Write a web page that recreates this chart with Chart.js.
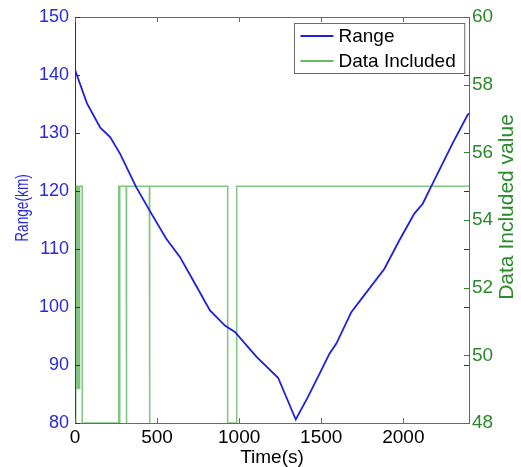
<!DOCTYPE html>
<html>
<head>
<meta charset="utf-8">
<script src="https://cdn.jsdelivr.net/npm/chart.js@4/dist/chart.umd.min.js"></script>
<style>
  html, body { margin: 0; padding: 0; background: #ffffff; }
  #wrap { width: 521px; height: 467px; position: relative; }
</style>
</head>
<body>
<div id="wrap"><canvas id="c" width="521" height="467"></canvas></div>
<script>
// ---- data ----
const rangeTime = [0, 73, 154, 214, 275, 372, 453, 555, 640, 731, 822, 913, 974, 1106, 1237, 1345, 1419, 1490, 1551, 1592, 1683, 1753, 1885, 1976, 2067, 2118, 2179, 2300, 2391, 2400];
const rangeKm   = [140.9, 135.1, 130.9, 129.3, 126.4, 120.7, 116.7, 111.8, 108.6, 104.0, 99.4, 96.8, 95.7, 91.4, 87.8, 80.6, 84.5, 88.5, 92.0, 93.7, 99.1, 101.7, 106.6, 111.5, 116.1, 117.8, 121.3, 128.2, 133.1, 133.4];

const includedTime  = [0, 5, 5, 9, 9, 11, 11, 14, 14, 17, 17, 20, 20, 23, 23, 26, 26, 29, 29, 44, 44, 266, 266, 270, 270, 274, 274, 312, 312, 315, 315, 453, 453, 456, 456, 930, 930, 985, 985, 2400];
const includedValue = [48, 48, 55, 55, 49, 49, 55, 55, 49, 49, 55, 55, 49, 49, 55, 55, 49, 49, 55, 55, 48, 48, 55, 55, 48, 48, 55, 55, 48, 48, 55, 55, 48, 48, 55, 55, 48, 48, 55, 55];

const xTicks  = [0, 500, 1000, 1500, 2000];
const yTicks  = [80, 90, 100, 110, 120, 130, 140, 150];
const y2Ticks = [48, 50, 52, 54, 56, 58, 60];

const seriesNames = ['Range', 'Data Included'];
const xTitle = 'Time(s)';
const yTitle = 'Range(km)';
const y2Title = 'Data Included value';

// ---- styles ----
const BLUE = '#1f1fdc';
const BLUE_TXT = '#2a2ad8';
const GREEN_LINE = 'rgba(0,140,0,0.5)';
const GREEN_TXT = '#2b8a2b';
const GRAY = '#6a6a6a';
const FONT = "Arial, 'Liberation Sans', sans-serif";

const rangeData = rangeTime.map((t, i) => ({ x: t, y: rangeKm[i] }));
const includedData = includedTime.map((t, i) => ({ x: t, y: includedValue[i] }));

const furniture = {
  id: 'furniture',
  afterDraw(chart) {
    const ctx = chart.ctx;
    const a = chart.chartArea;
    const sx = chart.scales.x, sy = chart.scales.y, sy2 = chart.scales.y2;
    ctx.save();
    ctx.lineWidth = 1;
    // top border
    ctx.strokeStyle = GRAY;
    ctx.beginPath(); ctx.moveTo(a.left, a.top + 0.5); ctx.lineTo(a.right, a.top + 0.5); ctx.stroke();
    // x ticks, inward at bottom and top
    xTicks.forEach(v => {
      const p = Math.round(sx.getPixelForValue(v)) + 0.5;
      ctx.beginPath(); ctx.moveTo(p, a.bottom); ctx.lineTo(p, a.bottom - 5); ctx.stroke();
      ctx.beginPath(); ctx.moveTo(p, a.top); ctx.lineTo(p, a.top + 5); ctx.stroke();
    });
    // left y ticks (blue), inward at left and mirrored on right
    ctx.strokeStyle = BLUE;
    yTicks.forEach(v => {
      const p = Math.round(sy.getPixelForValue(v)) + 0.5;
      ctx.beginPath(); ctx.moveTo(a.left, p); ctx.lineTo(a.left + 5, p); ctx.stroke();
      ctx.beginPath(); ctx.moveTo(a.right, p); ctx.lineTo(a.right - 5, p); ctx.stroke();
    });
    // right y ticks (green), inward
    ctx.strokeStyle = GREEN_TXT;
    y2Ticks.forEach(v => {
      const p = Math.round(sy2.getPixelForValue(v)) + 0.5;
      ctx.beginPath(); ctx.moveTo(a.right, p); ctx.lineTo(a.right - 5, p); ctx.stroke();
    });
    // y titles (both read bottom-to-top)
    ctx.fillStyle = BLUE_TXT;
    ctx.font = '18px ' + FONT;
    ctx.textAlign = 'center'; ctx.textBaseline = 'middle';
    ctx.translate(23, 208); ctx.rotate(-Math.PI / 2); ctx.scale(0.76, 1);
    ctx.fillText(yTitle, 0, 0);
    ctx.setTransform(1, 0, 0, 1, 0, 0);
    ctx.fillStyle = GREEN_TXT;
    ctx.font = '21px ' + FONT;
    ctx.translate(507, 207); ctx.rotate(-Math.PI / 2);
    ctx.fillText(y2Title, 0, 0);
    ctx.setTransform(1, 0, 0, 1, 0, 0);

    // legend box
    ctx.font = '19px ' + FONT;
    const tw = Math.max(...seriesNames.map(n => ctx.measureText(n).width));
    const lineLen = 33, padL = 6, gap = 5, padR = 9;
    const w = padL + lineLen + gap + tw + padR;
    const h = 50;
    const bx = Math.round(a.right - 5 - w) + 0.5;
    const by = Math.round(a.top + 6) + 0.5;
    ctx.fillStyle = '#ffffff';
    ctx.fillRect(bx, by, w, h);
    ctx.strokeStyle = GRAY;
    ctx.strokeRect(bx, by, w, h);
    const colors = [BLUE, 'rgba(0,140,0,0.6)'];
    const rows = [by + 12.5, by + 37.5];
    seriesNames.forEach((n, i) => {
      ctx.strokeStyle = colors[i];
      ctx.lineWidth = 1.8;
      ctx.beginPath(); ctx.moveTo(bx + padL, rows[i]); ctx.lineTo(bx + padL + lineLen, rows[i]); ctx.stroke();
      ctx.fillStyle = '#000000';
      ctx.textAlign = 'left'; ctx.textBaseline = 'middle';
      ctx.fillText(n, bx + padL + lineLen + gap, rows[i] + 1);
    });
    ctx.restore();
  }
};

new Chart(document.getElementById('c'), {
  type: 'line',
  data: {
    datasets: [
      { label: seriesNames[0], data: rangeData, yAxisID: 'y', borderColor: BLUE, borderWidth: 1.8,
        pointRadius: 0, tension: 0, fill: false, order: 1 },
      { label: seriesNames[1], data: includedData, yAxisID: 'y2', borderColor: GREEN_LINE, borderWidth: 1.5,
        pointRadius: 0, tension: 0, fill: false, order: 2 }
    ]
  },
  options: {
    responsive: false,
    animation: false,
    devicePixelRatio: 1,
    layout: { padding: { top: 17, left: 0, right: 0, bottom: 0 } },
    plugins: { legend: { display: false }, tooltip: { enabled: false } },
    scales: {
      x: {
        type: 'linear', min: 0, max: 2400,
        afterBuildTicks: s => { s.ticks = xTicks.map(v => ({ value: v })); },
        afterFit: s => { s.height = 44; },
        grid: { display: true, drawOnChartArea: false, drawTicks: false },
        border: { display: true, color: GRAY, width: 1 },
        ticks: { color: '#000000', font: { size: 19, family: FONT }, padding: 3, maxRotation: 0,
                 callback: v => String(v) },
        title: { display: true, text: xTitle, color: '#000000', font: { size: 19, family: FONT }, padding: { top: 0, bottom: -2 } }
      },
      y: {
        type: 'linear', position: 'left', min: 80, max: 150,
        afterBuildTicks: s => { s.ticks = yTicks.map(v => ({ value: v })); },
        afterFit: s => { s.width = 75; },
        grid: { display: true, drawOnChartArea: false, drawTicks: false },
        border: { display: true, color: BLUE, width: 1 },
        ticks: { color: BLUE_TXT, font: { size: 18, family: FONT }, padding: 6 }
      },
      y2: {
        type: 'linear', position: 'right', min: 48, max: 60,
        afterBuildTicks: s => { s.ticks = y2Ticks.map(v => ({ value: v })); },
        afterFit: s => { s.width = 52; },
        grid: { display: true, drawOnChartArea: false, drawTicks: false },
        border: { display: true, color: GREEN_TXT, width: 1 },
        ticks: { color: GREEN_TXT, font: { size: 19, family: FONT }, padding: 3 }
      }
    }
  },
  plugins: [furniture]
});
</script>
</body>
</html>
